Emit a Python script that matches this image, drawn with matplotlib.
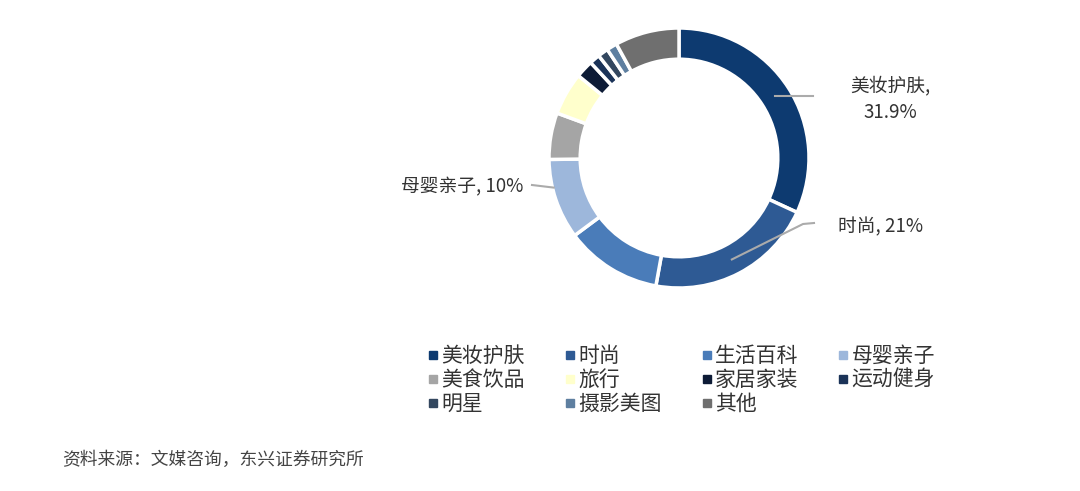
import numpy as np
import matplotlib
matplotlib.use('Agg')
import matplotlib.pyplot as plt
from matplotlib.lines import Line2D

plt.rcParams['font.family'] = ['Noto Sans CJK SC', 'DejaVu Sans']

# 内容类别占比 (%)
categorias = ['美妆护肤', '时尚', '生活百科', '母婴亲子', '美食饮品', '旅行',
              '家居家装', '运动健身', '明星', '摄影美图', '其他']
valores = [31.9, 21.0, 12.0, 10.0, 5.8, 5.3, 2.2, 1.3, 1.3, 1.3, 8.0]
cores = ['#0D3A70', '#2E5A94', '#4A7CB9', '#9DB7DB', '#A5A5A5', '#FFFFCC',
         '#0D1B36', '#1B3358', '#33475F', '#5E7FA0', '#6F6F6F']
rotulos = {0: '美妆护肤,\n31.9%', 1: '时尚, 21%', 3: '母婴亲子, 10%'}

W, H = 1080, 491
fig = plt.figure(figsize=(W / 100, H / 100), dpi=100)

# rosca centrada em (679, 158) px, raio 130 px
cx, cy, r = 679, 158, 130
lado = r * 2.5
ax = fig.add_axes([(cx - lado / 2) / W, (H - cy - lado / 2) / H, lado / W, lado / H])
wedges, _ = ax.pie(valores, colors=cores, startangle=90, counterclock=False, radius=1,
                   wedgeprops=dict(width=0.24, edgecolor='white', linewidth=2.5))
ax.set_xlim(-1.25, 1.25)
ax.set_ylim(-1.25, 1.25)


def px2data(x, y):
    p = fig.transFigure.transform((x / W, 1 - y / H))
    return ax.transData.inverted().transform(p)


def ponto_meio(w, raio):
    ang = np.deg2rad((w.theta1 + w.theta2) / 2)
    return raio * np.cos(ang), raio * np.sin(ang)


cor_linha = '#ABABAB'
cor_texto = '#333333'

# 美妆护肤
x0, y0 = ponto_meio(wedges[0], 0.88)
x1, y1 = px2data(813, 96)
ax.plot([x0, x1], [y0, y0], color=cor_linha, lw=1.5, clip_on=False)
fig.text(890 / W, 1 - 99 / H, rotulos[0], ha='center', va='center', fontsize=13.5,
         color=cor_texto, linespacing=1.4)

# 时尚
x0, y0 = ponto_meio(wedges[1], 0.88)
xa, ya = px2data(803, 224)
xb, yb = px2data(814, 223)
ax.plot([x0, xa, xb], [y0, ya, yb], color=cor_linha, lw=1.5, clip_on=False)
fig.text(838 / W, 1 - 227 / H, rotulos[1], ha='left', va='center', fontsize=13.5,
         color=cor_texto)

# 母婴亲子 (linha quase horizontal até a borda externa)
xa, ya = px2data(532, 185)
xe = -np.sqrt(1 - (ya - 0.02) ** 2)
ax.plot([xa, xe + 0.01], [ya, ya - 0.02], color=cor_linha, lw=1.5, clip_on=False)
fig.text(523 / W, 1 - 187 / H, rotulos[3], ha='right', va='center', fontsize=13.5,
         color=cor_texto)

# legenda (ordem por colunas para ficar igual à original)
ordem = [0, 4, 8, 1, 5, 9, 2, 6, 10, 3, 7]
handles = [Line2D([], [], marker='s', ls='', color=cores[i], markersize=5.5) for i in ordem]
labels = [categorias[i] for i in ordem]
fig.legend(handles, labels, ncol=4, loc='center', bbox_to_anchor=(681 / W, 1 - 380 / H),
           frameon=False, fontsize=15, handlelength=0.6, handletextpad=0.1,
           columnspacing=1.85, labelspacing=0.1, labelcolor=cor_texto)

fig.text(62 / W, 1 - 460 / H, '资料来源：文媒咨询，东兴证券研究所', ha='left', va='center',
         fontsize=12.8, color='#444444', style='italic')

fig.savefig('out.png', dpi=100, facecolor='white')
